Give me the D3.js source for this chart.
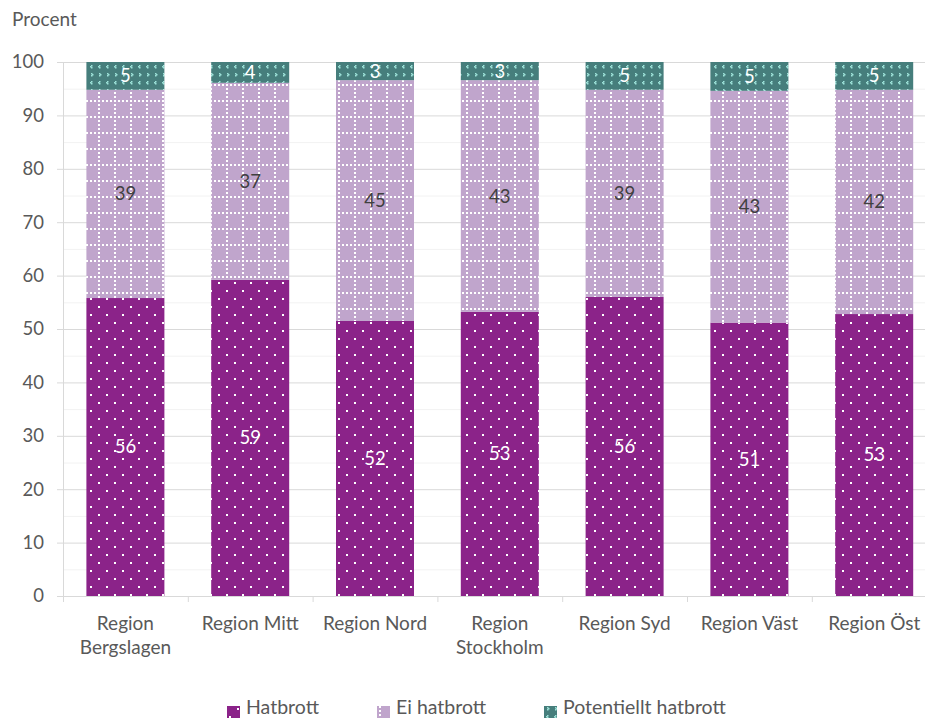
<!DOCTYPE html>
<html><head><meta charset="utf-8">
<script src="https://cdn.jsdelivr.net/npm/d3@7"></script>
<style>
html,body{margin:0;padding:0;background:#fff;}
svg{display:block;font-family:Lato,"Open Sans",sans-serif;}
</style></head>
<body><svg id="c" width="925" height="718"></svg>
<script>
const categories = ["Region Bergslagen","Region Mitt","Region Nord","Region Stockholm","Region Syd","Region Väst","Region Öst"];
const seriesNames = ["Hatbrott","Ei hatbrott","Potentiellt hatbrott"];
const hatbrott = [55.8, 59.2, 51.5, 53.2, 56.0, 51.2, 52.8];
const eiHatbrott = [39.0, 36.9, 45.1, 43.4, 38.8, 43.4, 42.0];
const potentiellt = [5.2, 3.9, 3.4, 3.4, 5.2, 5.4, 5.2];
const yTicks = [0,10,20,30,40,50,60,70,80,90,100];
const yMinorTicks = [5,15,25,35,45,55,65,75,85,95];
const yLabel = "Procent";

(function(){
const svg = d3.select("#c");
const pL = 63, pR = 936.6, pT = 62, pB = 596;
const x = d3.scaleBand().domain(categories).range([pL, pR]).paddingInner(0.375).paddingOuter(0.1875);
const y = d3.scaleLinear().domain([0,100]).range([pB, pT]);

const defs = svg.append("defs");
const p1 = defs.append("pattern").attr("id","pHat").attr("patternUnits","userSpaceOnUse").attr("width",16).attr("height",16).attr("x",pL+3).attr("y",2);
p1.append("rect").attr("width",16).attr("height",16).attr("fill","#8B2389");
p1.append("rect").attr("x",0).attr("y",0).attr("width",2).attr("height",2).attr("fill","#fff");
p1.append("rect").attr("x",8).attr("y",8).attr("width",2).attr("height",2).attr("fill","#fff");
const p2 = defs.append("pattern").attr("id","pEi").attr("patternUnits","userSpaceOnUse").attr("width",16).attr("height",16).attr("x",pL+3).attr("y",4);
p2.append("rect").attr("width",16).attr("height",16).attr("fill","#C0A5CC");
for (let i=0;i<16;i+=4){
  p2.append("rect").attr("x",i).attr("y",0).attr("width",2).attr("height",2).attr("fill","#fff");
  p2.append("rect").attr("x",0).attr("y",i).attr("width",2).attr("height",2).attr("fill","#fff");
}
const p3 = defs.append("pattern").attr("id","pPot").attr("patternUnits","userSpaceOnUse").attr("width",16).attr("height",16).attr("x",pL+1).attr("y",pT+2);
p3.append("rect").attr("width",16).attr("height",16).attr("fill","#467E7C");
const chev = [[3,1],[2,2],[3,3],[11,9],[12,10],[11,11],[11,1],[10,2],[11,3],[3,9],[4,10],[3,11]];
chev.forEach(([a,b])=>p3.append("rect").attr("x",a).attr("y",b).attr("width",1.5).attr("height",1.5).attr("fill","#9EE3DA"));

svg.append("g").selectAll("line").data(yMinorTicks).join("line")
  .attr("x1",pL).attr("x2",925).attr("y1",d=>y(d)+0.5).attr("y2",d=>y(d)+0.5)
  .attr("stroke","#f2f2f2").attr("stroke-width",1);
svg.append("g").selectAll("line").data(yTicks.filter(d=>d>0)).join("line")
  .attr("x1",pL-6).attr("x2",925).attr("y1",d=>y(d)+0.5).attr("y2",d=>y(d)+0.5)
  .attr("stroke","#d9d9d9").attr("stroke-width",1);
svg.append("line").attr("x1",pL+0.5).attr("x2",pL+0.5).attr("y1",pT).attr("y2",pB)
  .attr("stroke","#d9d9d9");

svg.append("g").selectAll("text").data(yTicks).join("text")
  .attr("x",44).attr("y",d=>y(d)).attr("dy","0.35em").attr("text-anchor","end")
  .attr("font-size",18.5).attr("fill","#595959").text(d=>d);
svg.append("text").attr("x",12).attr("y",19).attr("dy","0.35em").attr("font-size",19).attr("fill","#595959").text(yLabel);

const rows = categories.map((c,i)=>({cat:c, "Hatbrott":hatbrott[i], "Ei hatbrott":eiHatbrott[i], "Potentiellt hatbrott":potentiellt[i]}));
const stack = d3.stack().keys(seriesNames)(rows);
const fills = {"Hatbrott":"url(#pHat)","Ei hatbrott":"url(#pEi)","Potentiellt hatbrott":"url(#pPot)"};
const labelColors = {"Hatbrott":"#ffffff","Ei hatbrott":"#404040","Potentiellt hatbrott":"#ffffff"};

const gs = svg.append("g").selectAll("g").data(stack).join("g");
gs.selectAll("rect").data(s=>s.map(d=>({key:s.key,d}))).join("rect")
  .attr("x",o=>x(o.d.data.cat)).attr("width",x.bandwidth())
  .attr("y",o=>y(o.d[1])).attr("height",o=>y(o.d[0])-y(o.d[1]))
  .attr("fill",o=>fills[o.key]);
gs.selectAll("text").data(s=>s.map(d=>({key:s.key,d}))).join("text")
  .attr("x",o=>x(o.d.data.cat)+x.bandwidth()/2)
  .attr("y",o=>(y(o.d[0])+y(o.d[1]))/2).attr("dy","0.35em")
  .attr("text-anchor","middle").attr("font-size",18.5).attr("fill",o=>labelColors[o.key])
  .text(o=>Math.round(o.d[1]-o.d[0]));

svg.append("line").attr("x1",pL-6).attr("x2",925).attr("y1",pB+0.5).attr("y2",pB+0.5).attr("stroke","#d9d9d9");
const bounds = categories.map((c,i)=>pL + i*x.step());
svg.append("g").selectAll("line").data(bounds).join("line")
  .attr("x1",d=>d+0.5).attr("x2",d=>d+0.5).attr("y1",pB).attr("y2",pB+6).attr("stroke","#d9d9d9");

const xl = svg.append("g").selectAll("text").data(categories).join("text")
  .attr("x",d=>x(d)+x.bandwidth()/2).attr("y",623).attr("dy","0.35em")
  .attr("text-anchor","middle").attr("font-size",19).attr("fill","#595959").text(d=>d);
xl.each(function(d){
  const t = d3.select(this);
  if (this.getComputedTextLength() > x.step()-6){
    const parts = d.split(" ");
    t.text(null).attr("dy",null);
    t.append("tspan").attr("x",x(d)+x.bandwidth()/2).attr("dy","0.35em").text(parts[0]);
    t.append("tspan").attr("x",x(d)+x.bandwidth()/2).attr("dy","1.28em").text(parts.slice(1).join(" "));
  }
});

const legendX = [227, 377, 544];
const lg = svg.append("g").selectAll("g").data(seriesNames).join("g")
  .attr("transform",(d,i)=>`translate(${legendX[i]},714)`);
lg.append("rect").attr("x",0).attr("y",-8).attr("width",13).attr("height",13).attr("fill",d=>fills[d]);
lg.append("text").attr("x",19).attr("y",0).attr("font-size",19.5).attr("fill","#595959").text(d=>d);
})();
</script></body></html>
